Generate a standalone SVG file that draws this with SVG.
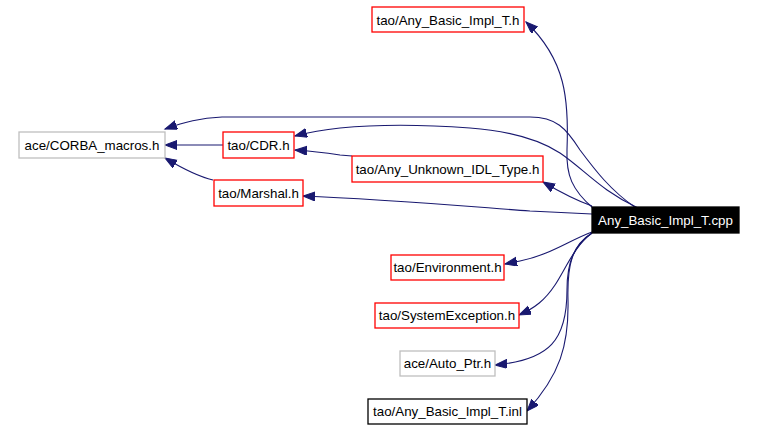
<svg xmlns="http://www.w3.org/2000/svg" width="758" height="430" viewBox="0 0 758 430">
<style>
.bg{fill:#ffffff}
.n rect{fill:#ffffff;stroke-width:1.3}
.red rect{stroke:#ff0000}
.gray rect{stroke:#bfbfbf}
.blk rect{stroke:#000000}
.root rect{fill:#000000;stroke:#000000}
text{font-family:"Liberation Sans",Arial,sans-serif;font-size:13.33px;text-anchor:middle;fill:#000000}
.root text{fill:#ffffff}
.e path{fill:none;stroke:#191970;stroke-width:1.1;marker-end:url(#ah)}
</style>
<defs>
<marker id="ah" markerUnits="userSpaceOnUse" markerWidth="14" markerHeight="11" refX="12" refY="4.5" orient="auto">
<path d="M0,0 L12,4.5 L0,9 z" fill="#191970" stroke="#191970" stroke-width="1"/>
</marker>
</defs>
<rect class="bg" x="0" y="0" width="758" height="430"/>
<g id="edges" class="e">
<path d="M593,208 C572,190 566,175 567,150 C569,100 566,60 526,22"/>
<path d="M636,208 C610,190 595,170 580,150 C566,128 556,117 530,117 L222,117 C200,118 185,122 165,129"/>
<path d="M638,208 C600,190 585,170 560,153 C540,140 510,131 470,128 C430,125 380,124 340,128 C320,130 310,132 295,136"/>
<path d="M352,156 L340,155 C320,152 310,151 295,150"/>
<path d="M592,206 C575,200 560,192 543,182"/>
<path d="M592,214 L530,211 C450,205 380,199 303,196"/>
<path d="M223,145 L165,145"/>
<path d="M213,180 C200,177 185,170 165,158"/>
<path d="M592,232 C570,240 550,255 520,261 L505,264"/>
<path d="M592,233 C575,245 565,270 555,285 C545,300 535,308 519,315"/>
<path d="M592,233 C575,245 567,260 567,290 C567,340 550,360 495,365"/>
<path d="M592,233 C572,245 567,265 568,300 C569,345 560,375 527,411"/>
</g>
<g id="n_any_basic_impl_t_h" class="n red"><rect x="372" y="7" width="152" height="25"/><text x="448" y="24.5">tao/Any_Basic_Impl_T.h</text></g>
<g id="n_corba_macros_h" class="n gray"><rect x="19" y="132" width="146" height="26"/><text x="92" y="149.5">ace/CORBA_macros.h</text></g>
<g id="n_cdr_h" class="n red"><rect x="223" y="132" width="71" height="26"/><text x="258.5" y="149.5">tao/CDR.h</text></g>
<g id="n_marshal_h" class="n red"><rect x="214" y="180" width="89" height="26"/><text x="258.5" y="197.5">tao/Marshal.h</text></g>
<g id="n_any_unknown_idl_type_h" class="n red"><rect x="352" y="156" width="191" height="26"/><text x="447.5" y="173.5">tao/Any_Unknown_IDL_Type.h</text></g>
<g id="n_any_basic_impl_t_cpp" class="n root"><rect x="592" y="207" width="147" height="26"/><text x="665.5" y="224.5">Any_Basic_Impl_T.cpp</text></g>
<g id="n_environment_h" class="n red"><rect x="391" y="255" width="113" height="25"/><text x="447.5" y="272">tao/Environment.h</text></g>
<g id="n_systemexception_h" class="n red"><rect x="375" y="303" width="144" height="25"/><text x="447" y="320">tao/SystemException.h</text></g>
<g id="n_auto_ptr_h" class="n gray"><rect x="400" y="351" width="95" height="25"/><text x="447.5" y="368">ace/Auto_Ptr.h</text></g>
<g id="n_any_basic_impl_t_inl" class="n blk"><rect x="368" y="399" width="159" height="25"/><text x="447.5" y="416">tao/Any_Basic_Impl_T.inl</text></g>
</svg>
